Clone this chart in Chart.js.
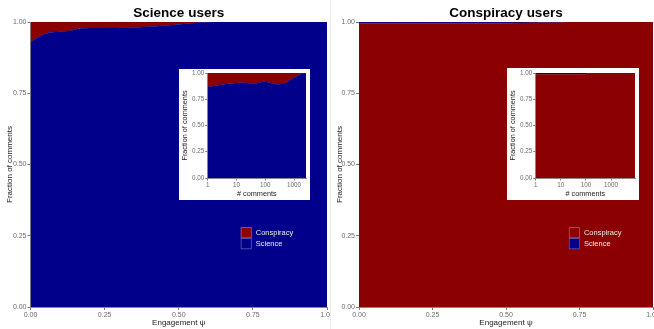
<!DOCTYPE html>
<html>
<head>
<meta charset="utf-8">
<script src="https://cdn.jsdelivr.net/npm/chart.js@4.4.1/dist/chart.umd.min.js"></script>
<style>
  body { margin: 0; background: #fff; width: 654px; height: 329px; position: relative; overflow: hidden; }
  canvas { position: absolute; }
  #divider { position: absolute; left: 330px; top: 0; width: 1px; height: 329px; background: #ececec; }
</style>
</head>
<body>
<canvas id="sciMain" width="330" height="329" style="left:0;top:0"></canvas>
<div id="divider"></div>
<canvas id="consMain" width="324" height="329" style="left:330px;top:0"></canvas>
<canvas id="sciInset" width="131" height="131" style="left:179px;top:69px"></canvas>
<canvas id="consInset" width="132" height="132" style="left:507px;top:68px"></canvas>
<script>
// ---- data ----
const legendLabels = ['Conspiracy', 'Science'];
const yTicks = [0, 0.25, 0.5, 0.75, 1];
const psiTicks = [0, 0.25, 0.5, 0.75, 1];
const commentTicks = [1, 10, 100, 1000];

// Science users, fraction of comments vs engagement psi
const sciPsi         = [0,     0.03,  0.065, 0.1,   0.13,  0.166, 0.233, 0.345, 0.46,  0.57,  0.62, 0.75, 1.0];
const sciScience     = [0.928, 0.949, 0.963, 0.966, 0.968, 0.977, 0.979, 0.981, 0.988, 0.998, 1.0,  1.0,  1.0];
const sciConspiracy  = [0.072, 0.051, 0.037, 0.034, 0.032, 0.023, 0.021, 0.019, 0.012, 0.002, 0,    0,    0];

// Conspiracy users
const consPsi        = [0,     0.1,   0.2,   0.3,   0.4,   0.5,   0.6,   0.68,  0.7, 0.8, 0.9, 1.0];
const consConspiracy = [0.996, 0.996, 0.996, 0.996, 0.996, 0.996, 0.997, 0.997, 1.0, 1.0, 1.0, 1.0];
const consScience    = [0.004, 0.004, 0.004, 0.004, 0.004, 0.004, 0.003, 0.003, 0,   0,   0,   0];

// insets: fraction of comments vs # comments
const sciInsetComments   = [1,     2.7,   10,    20,    38,    57,    85,    147,   250,   425,   725,  1240,  1860,  2610];
const sciInsetScience    = [0.867, 0.886, 0.905, 0.908, 0.898, 0.905, 0.917, 0.908, 0.892, 0.898, 0.93, 0.968, 0.994, 1.0];
const sciInsetConspiracy = [0.133, 0.114, 0.095, 0.092, 0.102, 0.095, 0.083, 0.092, 0.108, 0.102, 0.07, 0.032, 0.006, 0];

const consInsetComments   = [1,     3,     10,    30,    100,   130, 300, 1000, 3000, 9040];
const consInsetConspiracy = [0.985, 0.986, 0.986, 0.986, 0.988, 1.0, 1.0, 1.0,  1.0,  1.0];
const consInsetScience    = [0.015, 0.014, 0.014, 0.014, 0.012, 0,   0,   0,    0,    0];

const RED = '#8B0000';
const BLUE = '#00008B';
const FONT = '"Liberation Sans", Arial, Helvetica, sans-serif';
Chart.defaults.font.family = FONT;

const toPoints = (xs, ys) => xs.map((x, i) => ({ x: x, y: ys[i] }));

const whiteBg = {
    id: 'whiteBg',
    beforeDraw: (chart, args, opts) => {
        if (!opts.on) return;
        const ctx = chart.ctx;
        ctx.save();
        ctx.fillStyle = '#fff';
        ctx.fillRect(0, 0, chart.width, chart.height);
        ctx.restore();
    }
};

const panelTitle = {
    id: 'panelTitle',
    afterDraw: (chart, args, opts) => {
        if (!opts.text) return;
        const { ctx, chartArea } = chart;
        ctx.save();
        ctx.font = 'bold 13.5px ' + FONT;
        ctx.fillStyle = '#000';
        ctx.textAlign = 'center';
        ctx.textBaseline = 'alphabetic';
        ctx.fillText(opts.text, (chartArea.left + chartArea.right) / 2, 17);
        ctx.restore();
    }
};

// ggplot-like legend drawn inside the plot area
const keyLegend = {
    id: 'keyLegend',
    afterDraw: (chart, args, opts) => {
        if (!opts.display) return;
        const { ctx, chartArea } = chart;
        const x0 = chartArea.left + opts.fx * (chartArea.right - chartArea.left);
        let y = chartArea.top + opts.fy * (chartArea.bottom - chartArea.top);
        const size = 11;
        ctx.save();
        ctx.font = '7.5px ' + FONT;
        ctx.textBaseline = 'middle';
        ctx.textAlign = 'left';
        legendLabels.forEach(label => {
            const ds = chart.data.datasets.find(d => d.label === label);
            ctx.fillStyle = ds.backgroundColor;
            ctx.fillRect(x0, y, size, size);
            ctx.strokeStyle = 'rgba(255,255,255,0.35)';
            ctx.lineWidth = 0.8;
            ctx.strokeRect(x0 + 0.4, y + 0.4, size - 0.8, size - 0.8);
            ctx.fillStyle = '#ececec';
            ctx.fillText(label, x0 + size + 4, y + size / 2);
            y += size;
        });
        ctx.restore();
    }
};

function makeChart(canvasId, spec) {
    const ctx = document.getElementById(canvasId).getContext('2d');
    const datasets = spec.series.map((s, i) => ({
        label: s.label,
        data: toPoints(spec.xs, s.values),
        backgroundColor: s.color,
        borderColor: s.color,
        borderWidth: 0.5,
        pointRadius: 0,
        cubicInterpolationMode: 'monotone',
        fill: i === 0 ? 'origin' : '-1'
    }));

    const tickFont = { size: spec.tickSize, family: FONT };
    const titleFont = { size: spec.titleSize, family: FONT };

    return new Chart(ctx, {
        type: 'line',
        data: { datasets: datasets },
        plugins: [whiteBg, panelTitle, keyLegend],
        options: {
            responsive: false,
            animation: false,
            devicePixelRatio: 1,
            layout: { padding: spec.padding },
            plugins: {
                legend: { display: false },
                tooltip: { enabled: false },
                whiteBg: { on: !!spec.whiteBg },
                panelTitle: { text: spec.title || '' },
                keyLegend: spec.legend || { display: false }
            },
            scales: {
                x: {
                    type: spec.logX ? 'logarithmic' : 'linear',
                    min: spec.xMin,
                    max: spec.xMax,
                    afterBuildTicks: (scale) => {
                        scale.ticks = spec.xTicks.map(v => ({ value: v }));
                    },
                    afterFit: (scale) => {
                        scale.height = spec.xAxisHeight;
                        scale.paddingLeft = 0;
                        scale.paddingRight = 0;
                    },
                    ticks: {
                        autoSkip: false,
                        maxRotation: 0,
                        padding: 0.5,
                        color: '#6b6b6b',
                        font: tickFont,
                        callback: (v) => spec.logX ? String(v) : Number(v).toFixed(2)
                    },
                    grid: { drawOnChartArea: false, drawTicks: true, tickLength: spec.tickLen, color: '#7a7a7a' },
                    border: { display: true, color: '#8a8a8a', width: 1 },
                    title: {
                        display: true,
                        text: spec.xTitle,
                        color: '#222',
                        font: titleFont,
                        padding: { top: 0, bottom: spec.xTitlePad }
                    }
                },
                y: {
                    stacked: true,
                    min: 0,
                    max: 1,
                    afterBuildTicks: (scale) => {
                        scale.ticks = yTicks.map(v => ({ value: v }));
                    },
                    afterFit: (scale) => {
                        scale.width = spec.yAxisWidth;
                        scale.paddingTop = 0;
                        scale.paddingBottom = 0;
                    },
                    ticks: {
                        padding: 1,
                        color: '#6b6b6b',
                        font: tickFont,
                        callback: (v) => Number(v).toFixed(2)
                    },
                    grid: { drawOnChartArea: false, drawTicks: true, tickLength: spec.tickLen, color: '#7a7a7a' },
                    border: { display: true, color: '#8a8a8a', width: 1 },
                    title: {
                        display: true,
                        text: 'Fraction of comments',
                        color: '#222',
                        font: titleFont,
                        padding: { top: spec.yTitlePad, bottom: 0 }
                    }
                }
            }
        }
    });
}

const mainSpec = {
    xMin: 0, xMax: 1, xTicks: psiTicks, logX: false,
    xTitle: 'Engagement \u03C8',
    tickSize: 7, titleSize: 8, tickLen: 3,
    xAxisHeight: 22, xTitlePad: 1.5, yTitlePad: 5
};

makeChart('sciMain', Object.assign({}, mainSpec, {
    title: 'Science users',
    xs: sciPsi,
    series: [
        { label: 'Science', values: sciScience, color: BLUE },
        { label: 'Conspiracy', values: sciConspiracy, color: RED }
    ],
    padding: { top: 22, right: 3, left: 0, bottom: 0 },
    yAxisWidth: 30.5,
    legend: { display: true, fx: 0.709, fy: 0.72 }
}));

makeChart('consMain', Object.assign({}, mainSpec, {
    title: 'Conspiracy users',
    xs: consPsi,
    series: [
        { label: 'Conspiracy', values: consConspiracy, color: RED },
        { label: 'Science', values: consScience, color: BLUE }
    ],
    padding: { top: 22, right: 1, left: 0, bottom: 0 },
    yAxisWidth: 29,
    legend: { display: true, fx: 0.714, fy: 0.72 }
}));

const insetSpec = {
    logX: true, xMin: 1, xTicks: commentTicks,
    xTitle: '# comments',
    tickSize: 6.3, titleSize: 7.3, tickLen: 2.5,
    xAxisHeight: 22, xTitlePad: 1.6, yTitlePad: 1.8,
    yAxisWidth: 28.7, whiteBg: true
};

makeChart('sciInset', Object.assign({}, insetSpec, {
    xMax: 2610,
    xs: sciInsetComments,
    series: [
        { label: 'Science', values: sciInsetScience, color: BLUE },
        { label: 'Conspiracy', values: sciInsetConspiracy, color: RED }
    ],
    padding: { top: 4, right: 4, left: 0, bottom: 0 }
}));

makeChart('consInset', Object.assign({}, insetSpec, {
    xMax: 9040,
    xs: consInsetComments,
    series: [
        { label: 'Conspiracy', values: consInsetConspiracy, color: RED },
        { label: 'Science', values: consInsetScience, color: BLUE }
    ],
    padding: { top: 5, right: 4, left: 0, bottom: 0 }
}));
</script>
</body>
</html>
